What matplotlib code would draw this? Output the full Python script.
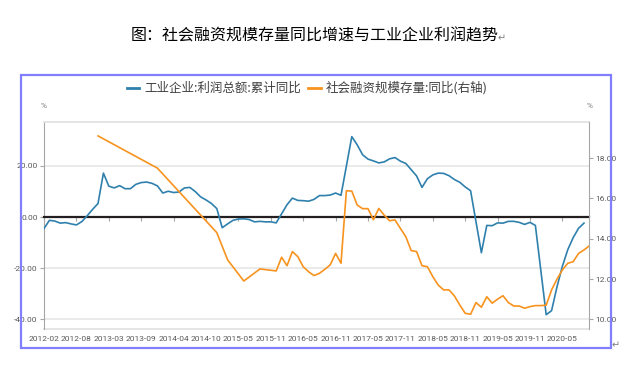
import matplotlib
matplotlib.use("Agg")
import matplotlib.pyplot as plt
from matplotlib.patches import Rectangle
from matplotlib.font_manager import FontProperties

# ---- categories: union of dates of both series (industrial profit has no January data)
categories = [f"{y}-{m:02d}" for y in range(2012, 2021) for m in range(1, 13)
              if (m > 1 or y >= 2016) and (y < 2020 or m <= 10)]

# ---- industrial enterprises: total profit, cumulative YoY (%), Feb..Dec each year
profit_months = ["02", "03", "04", "05", "06", "07", "08", "09", "10", "11", "12"]
profit_2012 = [-4.5, -1.3, -1.6, -2.4, -2.2, -2.7, -3.1, -1.8, 0.5, 3.0, 5.3]
profit_2013 = [17.2, 12.1, 11.4, 12.3, 11.1, 11.1, 12.8, 13.5, 13.7, 13.2, 12.2]
profit_2014 = [9.4, 10.1, 9.6, 9.8, 11.4, 11.6, 10.0, 7.9, 6.7, 5.3, 3.3]
profit_2015 = [-4.2, -2.7, -1.3, -0.8, -0.7, -1.0, -1.9, -1.7, -1.9, -1.9, -2.3]
profit_2016 = [4.8, 7.4, 6.5, 6.4, 6.2, 6.9, 8.4, 8.4, 8.6, 9.4, 8.5]
profit_2017 = [31.5, 28.3, 24.4, 22.7, 22.0, 21.2, 21.6, 22.8, 23.3, 21.9, 21.0]
profit_2018 = [16.1, 11.6, 15.0, 16.5, 17.2, 17.1, 16.2, 14.7, 13.6, 11.8, 10.3]
profit_2019 = [-14.0, -3.3, -3.4, -2.3, -2.4, -1.7, -1.7, -2.1, -2.9, -2.1, -3.3]
profit_2020 = [-38.3, -36.7, -27.4, -19.3, -12.8, -8.1, -4.4, -2.4]
profit_by_year = {2012: profit_2012, 2013: profit_2013, 2014: profit_2014,
                  2015: profit_2015, 2016: profit_2016, 2017: profit_2017,
                  2018: profit_2018, 2019: profit_2019, 2020: profit_2020}

# ---- social financing stock YoY (%), sparse before 2016, monthly afterwards
tsf_early_dates = ["2012-12", "2013-12", "2014-12", "2015-03", "2015-06", "2015-09", "2015-12"]
tsf_early_values = [19.1, 17.5, 14.3, 12.95, 11.9, 12.5, 12.4]
tsf_2016 = [13.08, 12.66, 13.36, 13.11, 12.61, 12.36, 12.17, 12.28, 12.48, 12.7, 13.27, 12.78]
tsf_2017 = [16.38, 16.36, 15.67, 15.49, 15.49, 14.94, 15.5, 15.17, 14.89, 14.93, 14.51, 14.1]
tsf_2018 = [13.41, 13.36, 12.66, 12.61, 12.12, 11.7, 11.46, 11.46, 11.16, 10.71, 10.3, 10.25]
tsf_2019 = [10.83, 10.6, 11.12, 10.8, 11.0, 11.17, 10.83, 10.66, 10.66, 10.55, 10.63, 10.68]
tsf_2020 = [10.68, 10.7, 11.46, 11.99, 12.45, 12.78, 12.86, 13.27, 13.44, 13.65]
tsf_by_year = {2016: tsf_2016, 2017: tsf_2017, 2018: tsf_2018, 2019: tsf_2019, 2020: tsf_2020}

title = "图：社会融资规模存量同比增速与工业企业利润趋势"
label_profit = "工业企业:利润总额:累计同比"
label_tsf = "社会融资规模存量:同比(右轴)"
left_ticks = [-40, -20, 0, 20]
right_ticks = [10, 12, 14, 16, 18]

# ---- assemble x positions
px, py = [], []
for yr, vals in profit_by_year.items():
    for m, v in zip(profit_months, vals):
        px.append(categories.index(f"{yr}-{m}"))
        py.append(v)
tx = [categories.index(d) for d in tsf_early_dates]
ty = list(tsf_early_values)
for yr, vals in tsf_by_year.items():
    for i, v in enumerate(vals):
        tx.append(categories.index(f"{yr}-{i + 1:02d}"))
        ty.append(v)

CJK = ['Noto Sans CJK SC', 'DejaVu Sans']
plt.rcParams['font.family'] = ['Roboto', 'DejaVu Sans']

BLUE = '#2f80ad'
ORANGE = '#f7931e'
GRAY = '#595959'

fig = plt.figure(figsize=(6.28, 3.75), dpi=100)
ax = fig.add_axes([0.0701, 0.1227, 0.8684, 0.552])
ax2 = ax.twinx()

ax.plot(px, py, color=BLUE, lw=1.2, zorder=3, label=label_profit)
ax2.plot(tx, ty, color=ORANGE, lw=1.2, zorder=3, label=label_tsf)

ax.set_xlim(0, len(categories) - 1)
ax.set_ylim(-43.9, 37.25)
ax2.set_ylim(9.52, 19.79)

# left axis
ax.set_yticks(left_ticks)
ax.set_yticklabels([f"{v:.2f}" for v in left_ticks])
ax.tick_params(axis='y', direction='out', length=3, color='#a6a6a6',
               labelsize=6, labelcolor=GRAY, pad=1.5)
ax.yaxis.grid(True, color='#e8e8e8', lw=1.3)
ax.set_axisbelow(True)
ax.spines['left'].set_color('#a6a6a6')
ax.spines['right'].set_visible(False)
ax.spines['top'].set_color('#e3e3e3')
ax.spines['top'].set_linewidth(1.3)

# zero line as x-axis with tick marks
xticks = list(range(0, 97, 6))
ax.spines['bottom'].set_position(('data', 0))
ax.spines['bottom'].set_color('#231f20')
ax.spines['bottom'].set_linewidth(1.6)
ax.spines['bottom'].set_zorder(2.5)
ax.set_xticks(xticks)
ax.tick_params(axis='x', direction='out', length=3, color='#a6a6a6', labelbottom=False)

sec = ax.secondary_xaxis('bottom')
sec.set_xticks(xticks)
sec.set_xticklabels([categories[i] for i in xticks])
sec.tick_params(axis='x', length=0, labelsize=6, labelcolor=GRAY, pad=5)
sec.spines['bottom'].set_color('#e3e3e3')
sec.spines['bottom'].set_linewidth(1.3)

# right axis
ax2.set_yticks(right_ticks)
ax2.set_yticklabels([f"{v:.2f}" for v in right_ticks])
ax2.tick_params(axis='y', direction='out', length=3, color='#a6a6a6',
                labelsize=6, labelcolor=GRAY, pad=1.5)
for s in ['left', 'top', 'bottom']:
    ax2.spines[s].set_visible(False)
ax2.spines['right'].set_color('#a6a6a6')

ax.text(0, 1.077, '%', transform=ax.transAxes, ha='center', va='center', fontsize=6, color='#808080')
ax.text(1, 1.077, '%', transform=ax.transAxes, ha='center', va='center', fontsize=6, color='#808080')

# legend
h1, l1 = ax.get_legend_handles_labels()
h2, l2 = ax2.get_legend_handles_labels()
leg = fig.legend(h1 + h2, l1 + l2, loc='center', bbox_to_anchor=(0.489, 0.765), ncol=2,
                 frameon=False, handlelength=1.0, handletextpad=0.4, columnspacing=0.6,
                 prop=FontProperties(family=CJK, size=9), labelcolor='#404040')
for lh in leg.get_lines():
    lh.set_linewidth(2.0)

# title and frame
fig.text(315 / 628, 1 - 36 / 375, title, ha='center', va='center', fontsize=11.5,
         family=CJK, color='black')
fig.text(498 / 628, 1 - 38 / 375, '↵', ha='left', va='center', fontsize=7,
         family=['DejaVu Sans'], color='#808080')
fig.text(612 / 628, 1 - 345 / 375, '↵', ha='left', va='center', fontsize=7,
         family=['DejaVu Sans'], color='#808080')
fig.patches.append(Rectangle((21 / 628, 1 - 348 / 375), 590 / 628, 273 / 375,
                             transform=fig.transFigure, fill=False, ec='#7f7fff', lw=1.6))

fig.savefig('out.png', dpi=100)
